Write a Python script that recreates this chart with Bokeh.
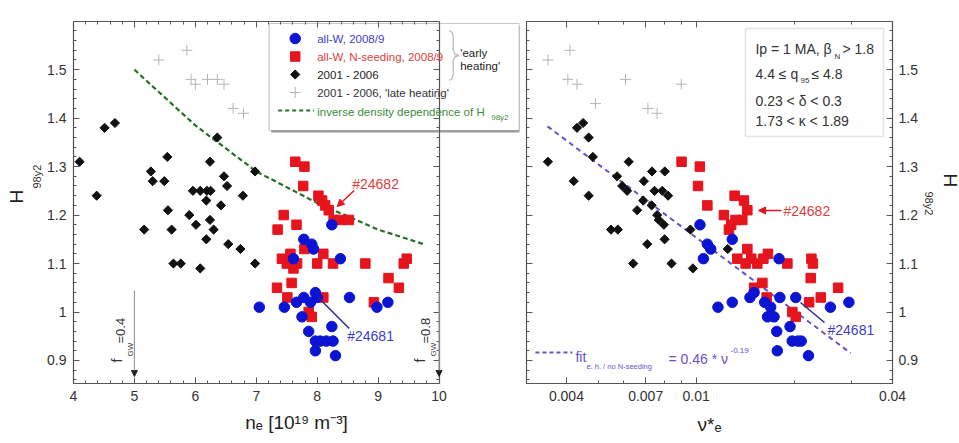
import math
from bokeh.plotting import figure
from bokeh.layouts import row
from bokeh.models import (Label, Arrow, NormalHead, BoxAnnotation, PolyAnnotation, LinearAxis, LogAxis,
                          FixedTicker, PrintfTickFormatter, CustomJSTickFormatter, Range1d, Title)
from bokeh.embed import file_html
from bokeh.resources import INLINE

FONT = "Liberation Sans"

# ---------------- data: left panel (n_e, H98y2) ----------------
ne_old = [4.10, 4.38, 4.51, 4.68, 5.16, 5.27, 5.30, 5.49, 5.54, 5.55, 5.61, 5.64, 5.76, 5.90, 5.96, 6.01, 6.08,
          6.08, 6.18, 6.19, 6.24, 6.24, 6.25, 6.30, 6.18, 6.36, 6.42, 6.47, 6.52, 6.54, 6.74, 6.78, 6.98, 6.98]
h_old_l = [1.31, 1.24, 1.38, 1.39, 1.17, 1.29, 1.27, 1.27, 1.32, 1.21, 1.17, 1.10, 1.10, 1.20, 1.25, 1.18, 1.25,
           1.09, 1.23, 1.25, 1.31, 1.19, 1.25, 1.17, 1.15, 1.36, 1.22, 1.28, 1.26, 1.14, 1.13, 1.24, 1.29, 1.10]
ne_late = [5.40, 5.86, 5.93, 6.00, 6.20, 6.36, 6.47, 6.62, 6.79]
h_late_l = [1.52, 1.54, 1.48, 1.47, 1.48, 1.48, 1.47, 1.42, 1.41]
ne_nseed = [7.64, 7.79, 7.77, 7.45, 7.35, 7.66, 8.02, 8.08, 8.13, 8.19, 8.27, 8.38, 8.52, 7.79, 7.42, 7.56, 7.50,
            7.61, 7.67, 8.00, 8.10, 8.26, 8.79, 7.34, 7.51, 7.58, 8.10, 7.86, 7.91, 8.93, 9.17, 9.34, 9.42, 9.47]
h_nseed_l = [1.31, 1.30, 1.26, 1.20, 1.17, 1.18, 1.24, 1.23, 1.22, 1.21, 1.19, 1.19, 1.19, 1.13, 1.11, 1.12, 1.10,
             1.09, 1.10, 1.10, 1.12, 1.10, 1.10, 1.05, 1.03, 1.06, 1.03, 1.00, 0.99, 1.02, 1.07, 1.05, 1.10, 1.11]
ne_allw = [7.05, 7.46, 7.61, 7.78, 7.91, 7.94, 8.24, 8.38, 7.66, 7.78, 7.89, 7.97, 8.00, 7.75, 7.86, 7.97, 8.05,
           8.15, 8.26, 7.97, 8.24, 8.30, 8.53, 8.98, 9.16]
h_allw_l = [1.01, 1.01, 1.11, 1.15, 1.14, 1.13, 1.18, 1.11, 1.02, 1.03, 1.02, 1.04, 1.03, 0.99, 0.96, 0.94, 0.94,
            0.94, 0.94, 0.92, 0.97, 0.91, 1.03, 1.01, 1.02]
ne_dep = [5.0, 6.0, 7.0, 8.0, 9.0, 9.75]
h_dep = [1.50, 1.385, 1.29, 1.225, 1.17, 1.14]

# ---------------- data: right panel (nu*_e, H98y2) ----------------
nu_late = [0.00351, 0.0041, 0.00404, 0.00431, 0.00607, 0.00491, 0.00711, 0.00759, 0.0090]
h_late_r = [1.52, 1.54, 1.48, 1.47, 1.48, 1.43, 1.42, 1.41, 1.47]
nu_old = [0.00351, 0.00421, 0.00431, 0.0045, 0.00468, 0.00482, 0.00468, 0.00548, 0.00575, 0.00572, 0.00593,
          0.00614, 0.00621, 0.00641, 0.00659, 0.00691, 0.00688, 0.00708, 0.0073, 0.00732, 0.00745, 0.00759,
          0.00768, 0.00787, 0.00796, 0.0080, 0.00801, 0.0082, 0.0084, 0.0096, 0.00977, 0.0125]
h_old_r = [1.31, 1.27, 1.38, 1.39, 1.36, 1.32, 1.24, 1.17, 1.17, 1.28, 1.26, 1.25, 1.31, 1.10, 1.21, 1.27, 1.23,
           1.14, 1.22, 1.29, 1.25, 1.20, 1.19, 1.25, 1.18, 1.15, 1.29, 1.24, 1.10, 1.17, 1.09, 1.13]
nu_nseed = [0.00902, 0.01026, 0.01013, 0.01082, 0.01216, 0.0126, 0.0128, 0.01312, 0.01401, 0.01435, 0.01385,
            0.0132, 0.01337, 0.01435, 0.01418, 0.01476, 0.0154, 0.01607, 0.0166, 0.01505, 0.01596, 0.01645,
            0.01904, 0.01972, 0.0202, 0.0222, 0.02256, 0.0228, 0.02245, 0.0241, 0.02724]
h_nseed_r = [1.31, 1.30, 1.26, 1.22, 1.20, 1.17, 1.18, 1.24, 1.23, 1.21, 1.19, 1.19, 1.11, 1.13, 1.10, 1.11, 1.10,
             1.11, 1.12, 1.05, 1.06, 1.03, 1.10, 1.00, 0.99, 1.02, 1.11, 1.10, 1.07, 1.03, 1.05]
nu_allw = [0.01027, 0.01082, 0.01108, 0.01052, 0.01166, 0.0129, 0.0129, 0.01462, 0.01505, 0.01622, 0.01692,
           0.01655, 0.01733, 0.01795, 0.01806, 0.01766, 0.01773, 0.0194, 0.0202, 0.0197, 0.0205, 0.0210, 0.0221,
           0.0258, 0.0294]
h_allw_r = [1.18, 1.14, 1.13, 1.11, 1.01, 1.02, 1.15, 1.03, 1.04, 1.02, 1.01, 0.99, 0.99, 1.11, 1.03, 0.96, 0.92,
            0.97, 1.03, 0.94, 0.94, 0.94, 0.91, 1.01, 1.02]
nu_fit = [0.0035, 0.0298]
h_fit = [1.383, 0.915]

# ticks
x_ticks_l = [4, 5, 6, 7, 8, 9, 10]
y_ticks = [0.9, 1.0, 1.1, 1.2, 1.3, 1.4, 1.5, 1.6]
x_ticks_r = [0.004, 0.007, 0.01, 0.04]
x_minor_r = [0.005, 0.006, 0.008, 0.009, 0.02, 0.03]

BLUE, RED, BLACK, GRAY = "#0b14d2", "#e6141c", "#111111", "#b4b4b4"
BLUE_T, RED_T, GREEN_T, PURPLE = "#3c3cc8", "#e0403c", "#3c8c3c", "#6b4fd0"
AX = "#555555"


# pixel -> data helpers (annotation placement only)
def LX(px): return 4 + (px - 73.3) / 60.93
def Y(py): return 1.5994 - (py - 21) * (0.7469 / 362)
def RX(px): return 0.004 * 10 ** ((px - 566) / 326.0)


def style_axis(ax, ticks, minor, labels=True, fmt="%g"):
    ax.ticker = FixedTicker(ticks=ticks, minor_ticks=minor)
    ax.axis_line_color = AX
    ax.axis_line_width = 1.2
    ax.major_tick_in = 6
    ax.major_tick_out = 0
    ax.minor_tick_in = 3
    ax.minor_tick_out = 0
    ax.major_tick_line_color = AX
    ax.minor_tick_line_color = AX
    ax.major_label_text_font = FONT
    ax.major_label_text_color = "#333333"
    ax.axis_label_text_font = FONT
    ax.axis_label_text_font_style = "normal"
    ax.axis_label_text_color = "#222222"
    if labels:
        ax.formatter = PrintfTickFormatter(format=fmt)
        ax.major_label_text_font_size = "14px"
        ax.major_label_standoff = 7
    else:
        ax.formatter = CustomJSTickFormatter(code="return ''")
        ax.major_label_text_font_size = "0px"
        ax.major_label_standoff = 0


def lab(p, x, y, text, size, color="#222222", angle=0.0, align="left", baseline="middle"):
    p.add_layout(Label(x=x, y=y, text=text, text_font=FONT, text_font_size=f"{size}px",
                       text_color=color, angle=angle, text_align=align, text_baseline=baseline))


def side_title(p, text, size, side, offset, standoff, color="#222222"):
    # align="left" starts the text at the bottom (left side) / top (right side) of the frame, shifted by offset
    p.add_layout(Title(text=text, align="left", offset=offset, standoff=standoff, text_font=FONT,
                       text_font_size=f"{size}px", text_font_style="normal", text_color=color), side)


y_minor = [round(0.86 + 0.02 * i, 2) for i in range(38) if round((0.86 + 0.02 * i) * 10, 6) % 1 != 0]
x_minor_l = [round(4 + 0.2 * i, 1) for i in range(31) if i % 5 != 0]

# ================= left figure =================
# the frame runs past x=10 so the legend can overhang into the gap; axes are bounded to 4..10
p1 = figure(frame_width=446, frame_height=362, x_range=Range1d(4, 4 + 446 / 60.93),
            y_range=Range1d(0.8525, 1.5994), output_backend="svg", toolbar_location=None,
            min_border_left=73, min_border_right=2, min_border_top=21, min_border_bottom=50)
p1.grid.visible = False
p1.outline_line_color = None
p1.background_fill_color = "white"
p1.border_fill_color = "white"
style_axis(p1.xaxis[0], x_ticks_l, x_minor_l)
p1.xaxis[0].bounds = (4, 10)
p1.xaxis[0].axis_label = "nₑ [10¹⁹ m⁻³]"
p1.xaxis[0].axis_label_text_font_size = "19px"
p1.xaxis[0].axis_label_standoff = 8
style_axis(p1.yaxis[0], y_ticks, y_minor)
top1 = LinearAxis(bounds=(4, 10))
style_axis(top1, x_ticks_l, x_minor_l, labels=False)
p1.add_layout(top1, "above")
right1 = LinearAxis(fixed_location=10)
style_axis(right1, y_ticks, y_minor, labels=False)
p1.add_layout(right1, "right")
side_title(p1, "98y2", 11, "left", 195, 3, "#333333")
side_title(p1, "H", 19, "left", 180, 1)

# legend box (shadow + box), under glyphs
p1.add_layout(BoxAnnotation(left=LX(271), right=LX(521), top=Y(25), bottom=Y(132), fill_color="#9a9a9a",
                            fill_alpha=1.0, line_color=None, level="underlay"))
p1.add_layout(BoxAnnotation(left=LX(269), right=LX(519), top=Y(23), bottom=Y(130), fill_color="white",
                            fill_alpha=1.0, line_color="#444444", line_width=1.2, level="underlay"))

p1.line(ne_dep, h_dep, line_color="#2a6e2a", line_width=2.2, line_dash="5 3")
p1.scatter(ne_late, h_late_l, marker="cross", size=11, line_color=GRAY, line_width=1)
p1.scatter(ne_old, h_old_l, marker="square", angle=math.pi / 4, size=6.5, fill_color=BLACK, line_color=BLACK)
p1.scatter(ne_nseed, h_nseed_l, marker="square", size=9.5, fill_color=RED, line_color=RED)
p1.scatter(ne_allw, h_allw_l, marker="circle", size=10.5, fill_color=BLUE, line_color=BLUE)

# legend markers & texts
leg_rows = [38, 56, 74, 92, 110]
p1.scatter([LX(295)], [Y(leg_rows[0])], marker="circle", size=10.5, fill_color=BLUE, line_color=BLUE)
p1.scatter([LX(295)], [Y(leg_rows[1])], marker="square", size=9.5, fill_color=RED, line_color=RED)
p1.scatter([LX(295)], [Y(leg_rows[2])], marker="square", angle=math.pi / 4, size=6.5, fill_color=BLACK,
           line_color=BLACK)
p1.scatter([LX(295)], [Y(leg_rows[3])], marker="cross", size=11, line_color=GRAY, line_width=1)
p1.line([LX(278), LX(314)], [Y(leg_rows[4])] * 2, line_color="#2a6e2a", line_width=2.2, line_dash="4 3")
lab(p1, LX(317), Y(leg_rows[0]), "all-W, 2008/9", 11.5, BLUE_T)
lab(p1, LX(317), Y(leg_rows[1]), "all-W, N-seeding, 2008/9", 11.5, RED_T)
lab(p1, LX(317), Y(leg_rows[2]), "2001 - 2006", 11.5, "#222222")
lab(p1, LX(317), Y(leg_rows[3]), "2001 - 2006, 'late heating'", 11.5, "#333333")
lab(p1, LX(317), Y(leg_rows[4] + 1), "inverse density dependence of H", 11.5, GREEN_T)
lab(p1, LX(491), Y(leg_rows[4] + 7), "98y2", 8, GREEN_T)
# brace and 'early heating'
bx = [449, 452, 453, 453, 455, 459, 455, 453, 453, 452, 449]
by = [30, 32, 36, 50, 54, 55, 56, 60, 74, 78, 80]
p1.add_layout(PolyAnnotation(xs=[LX(v) for v in bx + bx[::-1]], ys=[Y(v) for v in by + by[::-1]],
                             fill_alpha=0, line_color="#222222", line_width=1.3))
lab(p1, LX(460), Y(52), "'early", 11.5, "#222222")
lab(p1, LX(460), Y(65), "heating'", 11.5, "#222222")

# shot annotations
lab(p1, LX(352), Y(183), "#24682", 14, RED_T)
p1.add_layout(Arrow(x_start=LX(354), y_start=Y(190), x_end=LX(337), y_end=Y(206), line_color=RED,
                    line_width=1.5, end=NormalHead(size=7, fill_color=RED, line_color=RED)))
lab(p1, LX(347), Y(335), "#24681", 14, BLUE_T)
p1.add_layout(Arrow(x_start=LX(349), y_start=Y(328), x_end=LX(318), y_end=Y(297), line_color="#2a2a9a",
                    line_width=1.5, end=None))
# f_GW markers
for xv, xf, xe, xs, txt in [(5.0, 117, 120, 130, "=0.4"), (10.0, 420, 425, 433, "=0.8")]:
    p1.add_layout(Arrow(x_start=xv, y_start=Y(290), x_end=xv, y_end=Y(376), line_color="#9a9a9a",
                        line_width=1.2, end=NormalHead(size=6, fill_color="#222222", line_color="#222222")))
    lab(p1, LX(xf), Y(362), "f", 14, "#333333", angle=math.pi / 2)
    lab(p1, LX(xs), Y(356), "GW", 8, "#333333", angle=math.pi / 2)
    lab(p1, LX(xe), Y(343), txt, 13, "#333333", angle=math.pi / 2)

# ================= right figure =================
p2 = figure(frame_width=366, frame_height=362, x_axis_type="log", x_range=Range1d(0.003017, 0.04),
            y_range=Range1d(0.8525, 1.5994), y_axis_location="right", output_backend="svg",
            toolbar_location=None, min_border_left=5, min_border_right=60, min_border_top=21,
            min_border_bottom=50)
p2.grid.visible = False
p2.outline_line_color = AX
p2.background_fill_color = "white"
p2.border_fill_color = "white"
style_axis(p2.xaxis[0], x_ticks_r, x_minor_r)
p2.xaxis[0].axis_label = "ν*ₑ"
p2.xaxis[0].axis_label_text_font_size = "19px"
p2.xaxis[0].axis_label_standoff = 10
style_axis(p2.yaxis[0], y_ticks, y_minor)
p2.yaxis[0].major_label_standoff = 6
top2 = LogAxis()
style_axis(top2, x_ticks_r, x_minor_r, labels=False)
p2.add_layout(top2, "above")
left2 = LinearAxis()
style_axis(left2, y_ticks, y_minor, labels=False)
p2.add_layout(left2, "left")
side_title(p2, "98y2", 11, "right", 170, 5, "#333333")
side_title(p2, "H", 19, "right", 152, 0)

p2.add_layout(BoxAnnotation(left=RX(745), right=RX(883), top=Y(28), bottom=Y(136), fill_color="white",
                            fill_alpha=1.0, line_color="#aaaaaa", line_width=1.6, level="underlay"))

p2.line(nu_fit, h_fit, line_color=PURPLE, line_width=2, line_dash="5 4")
p2.scatter(nu_late, h_late_r, marker="cross", size=11, line_color=GRAY, line_width=1)
p2.scatter(nu_old, h_old_r, marker="square", angle=math.pi / 4, size=6.5, fill_color=BLACK, line_color=BLACK)
p2.scatter(nu_nseed, h_nseed_r, marker="square", size=9.5, fill_color=RED, line_color=RED)
p2.scatter(nu_allw, h_allw_r, marker="circle", size=10.5, fill_color=BLUE, line_color=BLUE)

# info box text
lab(p2, RX(755), Y(48), "Ip = 1 MA, β", 14, "#333333")
lab(p2, RX(834), Y(56), "N", 8, "#333333")
lab(p2, RX(842), Y(48), "> 1.8", 14, "#333333")
lab(p2, RX(755), Y(73), "4.4 ≤ q", 14, "#333333")
lab(p2, RX(800), Y(80), "95", 8, "#333333")
lab(p2, RX(811), Y(73), "≤ 4.8", 14, "#333333")
lab(p2, RX(755), Y(100), "0.23 < δ < 0.3", 14, "#333333")
lab(p2, RX(755), Y(120), "1.73 < κ < 1.89", 14, "#333333")

# shot annotations
lab(p2, RX(783), Y(210), "#24682", 14, RED_T)
p2.add_layout(Arrow(x_start=RX(781), y_start=Y(210), x_end=RX(758), y_end=Y(210), line_color=RED,
                    line_width=1.5, end=NormalHead(size=7, fill_color=RED, line_color=RED)))
lab(p2, RX(827), Y(329), "#24681", 14, BLUE_T)
p2.add_layout(Arrow(x_start=RX(824), y_start=Y(322), x_end=RX(800), y_end=Y(302), line_color="#2a2a9a",
                    line_width=1.5, end=None))

# fit legend
p2.line([RX(535), RX(572)], [Y(352)] * 2, line_color=PURPLE, line_width=2, line_dash="4 3")
lab(p2, RX(575), Y(356), "fit", 14, PURPLE)
lab(p2, RX(586), Y(366), "e. h. / no N-seeding", 7.5, PURPLE)
lab(p2, RX(668), Y(358), "= 0.46 * ν", 14, PURPLE)
lab(p2, RX(730), Y(350), "-0.19", 8, PURPLE)

layout = row(p1, p2)
open("out.html", "w").write(file_html(layout, INLINE))
